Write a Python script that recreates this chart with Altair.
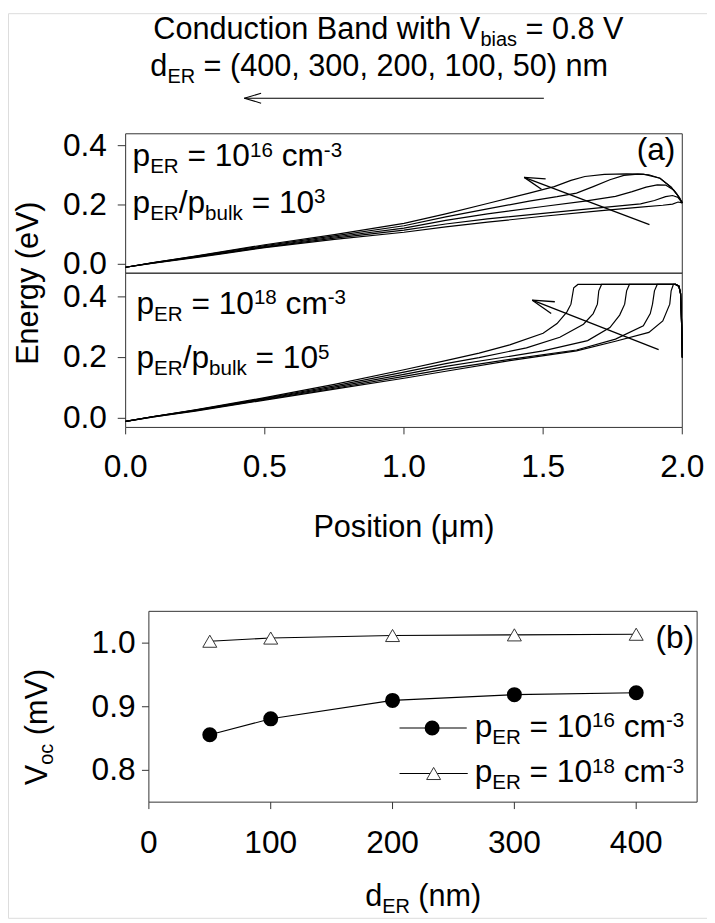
import altair as alt
import pandas as pd

FONT = "Liberation Sans"

# ---------------- data ----------------
d_er_nm = [400, 300, 200, 100, 50]

# panel (a) upper: p_ER = 1e16
x_top = {
    400: [0, 0.1, 0.25, 0.5, 0.75, 1.0, 1.15, 1.3, 1.45, 1.54, 1.6, 1.65, 1.72, 1.8, 1.86, 1.92, 1.96, 1.98, 2.0],
    300: [0, 0.1, 0.25, 0.5, 0.75, 1.0, 1.15, 1.3, 1.45, 1.55, 1.62, 1.68, 1.74, 1.79, 1.84, 1.88, 1.92, 1.96, 1.98, 2.0],
    200: [0, 0.1, 0.25, 0.5, 0.75, 1.0, 1.15, 1.3, 1.5, 1.65, 1.76, 1.82, 1.87, 1.91, 1.94, 1.97, 1.99, 2.0],
    100: [0, 0.1, 0.25, 0.5, 0.75, 1.0, 1.15, 1.3, 1.5, 1.7, 1.85, 1.9, 1.94, 1.965, 1.985, 2.0],
    50: [0, 0.1, 0.25, 0.5, 0.75, 1.0, 1.15, 1.3, 1.5, 1.7, 1.85, 1.93, 1.965, 1.985, 2.0],
}
y_top = {
    400: [-0.01, 0.006, 0.028, 0.066, 0.1, 0.138, 0.17, 0.205, 0.24, 0.262, 0.283, 0.296, 0.303, 0.305, 0.304, 0.29, 0.26, 0.237, 0.207],
    300: [-0.01, 0.006, 0.027, 0.063, 0.096, 0.13, 0.16, 0.187, 0.213, 0.228, 0.24, 0.262, 0.285, 0.3, 0.304, 0.302, 0.29, 0.26, 0.237, 0.207],
    200: [-0.01, 0.005, 0.025, 0.06, 0.092, 0.122, 0.148, 0.17, 0.195, 0.213, 0.229, 0.245, 0.26, 0.268, 0.267, 0.25, 0.225, 0.207],
    100: [-0.01, 0.005, 0.024, 0.058, 0.088, 0.115, 0.136, 0.153, 0.172, 0.19, 0.204, 0.215, 0.228, 0.232, 0.225, 0.207],
    50: [-0.01, 0.004, 0.022, 0.056, 0.084, 0.108, 0.126, 0.142, 0.162, 0.18, 0.193, 0.199, 0.203, 0.21, 0.207],
}

# panel (a) lower: p_ER = 1e18
x_bot = {
    400: [0, 0.1, 0.25, 0.5, 0.75, 1.0, 1.15, 1.27, 1.38, 1.5, 1.55, 1.585, 1.6, 1.61, 1.625, 1.976, 1.988, 1.994, 1.998, 2.0],
    300: [0, 0.1, 0.25, 0.5, 0.75, 1.0, 1.15, 1.27, 1.44, 1.56, 1.645, 1.68, 1.695, 1.7, 1.71, 1.976, 1.988, 1.994, 1.998, 2.0],
    200: [0, 0.1, 0.25, 0.5, 0.75, 1.0, 1.15, 1.33, 1.5, 1.66, 1.74, 1.775, 1.793, 1.8, 1.81, 1.976, 1.988, 1.994, 1.998, 2.0],
    100: [0, 0.1, 0.25, 0.5, 0.75, 1.0, 1.15, 1.38, 1.62, 1.76, 1.86, 1.885, 1.893, 1.9, 1.91, 1.976, 1.988, 1.994, 1.998, 2.0],
    50: [0, 0.1, 0.25, 0.5, 0.75, 1.0, 1.15, 1.38, 1.62, 1.76, 1.88, 1.93, 1.955, 1.96, 1.968, 1.976, 1.988, 1.994, 1.998, 2.0],
}
y_bot = {
    400: [-0.01, 0.006, 0.028, 0.068, 0.112, 0.16, 0.19, 0.215, 0.242, 0.28, 0.312, 0.35, 0.376, 0.43, 0.441, 0.441, 0.435, 0.41, 0.3, 0.2],
    300: [-0.01, 0.006, 0.027, 0.066, 0.107, 0.152, 0.18, 0.2, 0.232, 0.267, 0.31, 0.345, 0.376, 0.42, 0.441, 0.441, 0.435, 0.41, 0.3, 0.2],
    200: [-0.01, 0.006, 0.026, 0.064, 0.103, 0.145, 0.171, 0.197, 0.222, 0.256, 0.299, 0.34, 0.376, 0.42, 0.441, 0.441, 0.435, 0.41, 0.3, 0.2],
    100: [-0.01, 0.005, 0.025, 0.062, 0.099, 0.138, 0.162, 0.194, 0.225, 0.261, 0.305, 0.345, 0.376, 0.42, 0.441, 0.441, 0.435, 0.41, 0.3, 0.2],
    50: [-0.01, 0.005, 0.024, 0.06, 0.096, 0.132, 0.155, 0.19, 0.222, 0.254, 0.283, 0.321, 0.376, 0.42, 0.441, 0.441, 0.435, 0.41, 0.3, 0.2],
}

# annotation arrows in panel (a): shaft tail -> tip, plus two barbs (data units)
arrow_top = [(1.882, 0.134, 1.432, 0.293), (1.432, 0.293, 1.509, 0.288), (1.432, 0.293, 1.494, 0.253)]
arrow_bot = [(1.915, 0.226, 1.461, 0.389), (1.461, 0.389, 1.542, 0.384), (1.461, 0.389, 1.529, 0.345)]

# panel (b)
d_er_b = [50, 100, 200, 300, 400]
voc_16 = [0.856, 0.881, 0.910, 0.919, 0.922]
voc_18 = [1.003, 1.008, 1.012, 1.013, 1.014]

# tick values / labels
ticks_pos = [0, 0.5, 1.0, 1.5, 2.0]
ticks_pos_lbl = ["0.0", "0.5", "1.0", "1.5", "2.0"]
ticks_energy = [0, 0.2, 0.4]
ticks_energy_lbl = ["0.0", "0.2", "0.4"]
ticks_der = [0, 100, 200, 300, 400]
ticks_der_lbl = ["0", "100", "200", "300", "400"]
ticks_voc = [0.8, 0.9, 1.0]
ticks_voc_lbl = ["0.8", "0.9", "1.0"]

# ---------------- helpers ----------------
M = 8  # page margin
AW = {' ': 278, '.': 278, ',': 278, '=': 584, '(': 333, ')': 333, '/': 278, '-': 333,
      'a': 556, 'b': 556, 'c': 500, 'd': 556, 'e': 556, 'g': 556, 'h': 556, 'i': 222, 'k': 500,
      'l': 222, 'm': 833, 'n': 556, 'o': 556, 'p': 556, 'r': 333, 's': 500, 't': 278, 'u': 556,
      'w': 722, 'y': 500, 'B': 667, 'C': 722, 'E': 667, 'R': 722, 'V': 667, 'P': 667, 'μ': 576}
for _c in '0123456789':
    AW[_c] = 556


def tw(s, f):
    return sum(AW.get(c, 556) for c in s) / 1000.0 * f


R = 0.65


def seg_font(k, F):
    return F if k == 'n' else F * R


def seg_shift(k, F):
    return 0 if k == 'n' else (0.22 * F if k == 'b' else -0.30 * F)


def rich(segs, x0, y0, F, anchor='start'):
    total = sum(tw(t, seg_font(k, F)) for t, k in segs)
    if anchor == 'middle':
        x0 -= total / 2
    elif anchor == 'end':
        x0 -= total
    rows, x = [], x0
    for t, k in segs:
        fs = seg_font(k, F)
        lead = len(t) - len(t.lstrip(' '))
        txt = t.strip(' ')
        if txt:
            rows.append(dict(x=x + tw(' ' * lead, fs) - M, y=y0 + seg_shift(k, F) - M, t=txt, fs=fs))
        x += tw(t, fs)
    return rows


def rich_v(segs, xb, yc, F):
    total = sum(tw(t, seg_font(k, F)) for t, k in segs)
    y = yc + total / 2
    rows = []
    for t, k in segs:
        fs = seg_font(k, F)
        lead = len(t) - len(t.lstrip(' '))
        txt = t.strip(' ')
        if txt:
            rows.append(dict(x=xb + seg_shift(k, F) - M, y=y - tw(' ' * lead, fs) - M, t=txt, fs=fs))
        y -= tw(t, fs)
    return rows


def curves_df(xd, yd):
    rows = []
    for d in d_er_nm:
        for i, (a, b) in enumerate(zip(xd[d], yd[d])):
            rows.append(dict(x=a, y=b, d=d, i=i))
    return pd.DataFrame(rows)


W, H = 715 - M, 923 - M
INK = '#333333'
F = 32     # tick labels / annotations
FT = 31    # titles


def frame(xs, ys, x0, x1, y0, y1):
    df = pd.DataFrame({'a': [x0], 'b': [x1], 'c': [y0], 'e': [y1]})
    return alt.Chart(df).mark_rect(filled=False, color=INK, strokeWidth=1).encode(
        x=alt.X('a:Q', scale=xs, axis=None), x2='b:Q',
        y=alt.Y('c:Q', scale=ys, axis=None), y2='e:Q')


def arrow(xs, ys, segs):
    df = pd.DataFrame(segs, columns=['x', 'y', 'x2', 'y2'])
    return alt.Chart(df).mark_rule(color='black', strokeWidth=1.3).encode(
        x=alt.X('x:Q', scale=xs, axis=None), y=alt.Y('y:Q', scale=ys, axis=None),
        x2='x2:Q', y2='y2:Q')


def xticks(xs, vals, lbls, y_axis, tick_len, y_base):
    df = pd.DataFrame({'v': vals, 'l': lbls})
    t = alt.Chart(df).mark_rule(color=INK, strokeWidth=1).encode(
        x=alt.X('v:Q', scale=xs, axis=None),
        y=alt.value(y_axis - M), y2=alt.value(y_axis + tick_len - M))
    l = alt.Chart(df).mark_text(align='center', baseline='alphabetic', font=FONT,
                                fontSize=F, color='black').encode(
        x=alt.X('v:Q', scale=xs, axis=None), y=alt.value(y_base - M), text='l:N')
    return [t, l]


def yticks(ys, vals, lbls, x_axis, tick_len, x_right):
    df = pd.DataFrame({'v': vals, 'l': lbls})
    t = alt.Chart(df).mark_rule(color=INK, strokeWidth=1).encode(
        y=alt.Y('v:Q', scale=ys, axis=None),
        x=alt.value(x_axis - tick_len - M), x2=alt.value(x_axis - M))
    l = alt.Chart(df).mark_text(align='right', baseline='middle', font=FONT,
                                fontSize=F, color='black').encode(
        y=alt.Y('v:Q', scale=ys, axis=None), x=alt.value(x_right - M), text='l:N')
    return [t, l]


def lines(df, xs, ys):
    return alt.Chart(df).mark_line(color='black', strokeWidth=1.2).encode(
        x=alt.X('x:Q', scale=xs, axis=None), y=alt.Y('y:Q', scale=ys, axis=None),
        detail='d:N', order='i:Q')

# ---------------- panel (a) ----------------
XA0, XA1 = 127, 690
xa = alt.Scale(domain=[0, 2], range=[XA0 - M, XA1 - M], nice=False, zero=False)
ya1 = alt.Scale(domain=[-0.03, 0.44], range=[271 - M, 130 - M], nice=False, zero=False)
ya2 = alt.Scale(domain=[-0.03, 0.478], range=[427 - M, 271 - M], nice=False, zero=False)

pa_top = alt.layer(
    frame(xa, ya1, 0, 2, -0.03, 0.44),
    lines(curves_df(x_top, y_top), xa, ya1),
    arrow(xa, ya1, arrow_top),
    *yticks(ya1, ticks_energy, ticks_energy_lbl, XA0, 8, 108),
)

pa_bot = alt.layer(
    frame(xa, ya2, 0, 2, -0.03, 0.478),
    lines(curves_df(x_bot, y_bot), xa, ya2),
    arrow(xa, ya2, arrow_bot),
    *yticks(ya2, ticks_energy, ticks_energy_lbl, XA0, 8, 108),
    *xticks(xa, ticks_pos, ticks_pos_lbl, 427, 7, 477),
)

# ---------------- panel (b) ----------------
XB0, XB1 = 150.5, 705
xb = alt.Scale(domain=[0, 450], range=[XB0 - M, XB1 - M], nice=False, zero=False)
yb = alt.Scale(domain=[0.75, 1.05], range=[806 - M, 613 - M], nice=False, zero=False)

df_b = pd.DataFrame({'d': d_er_b * 2, 'v': voc_16 + voc_18,
                     's': ['16'] * len(d_er_b) + ['18'] * len(d_er_b)})
df16 = df_b[df_b.s == '16']
df18 = df_b[df_b.s == '18']

line_b = alt.Chart(df_b).mark_line(color='black', strokeWidth=1.1).encode(
    x=alt.X('d:Q', scale=xb, axis=None), y=alt.Y('v:Q', scale=yb, axis=None), detail='s:N')
pts16 = alt.Chart(df16).mark_point(shape='circle', filled=True, color='black', size=230, opacity=1).encode(
    x=alt.X('d:Q', scale=xb, axis=None), y=alt.Y('v:Q', scale=yb, axis=None))
pts18 = alt.Chart(df18).mark_point(shape='triangle-up', filled=True, fill='white', stroke=INK,
                                   strokeWidth=1, size=200, opacity=1).encode(
    x=alt.X('d:Q', scale=xb, axis=None), y=alt.Y('v:Q', scale=yb, axis=None))

pb = alt.layer(
    frame(xb, yb, 0, 450, 0.75, 1.05), line_b, pts16, pts18,
    *yticks(yb, ticks_voc, ticks_voc_lbl, XB0, 7, 137),
    *xticks(xb, ticks_der, ticks_der_lbl, 806, 7, 857),
)

# ---------------- annotations (page pixels) ----------------
rows = []
rows += rich([("Conduction Band with V", 'n'), ("bias", 'b'), (" = 0.8 V", 'n')], 155, 34, FT)
rows += rich([("d", 'n'), ("ER", 'b'), (" = (400, 300, 200, 100, 50) nm", 'n')], 152, 72, FT)
rows += rich([("p", 'n'), ("ER", 'b'), (" = 10", 'n'), ("16", 'p'), (" cm", 'n'), ("-3", 'p')], 134, 163, F)
rows += rich([("p", 'n'), ("ER", 'b'), ("/p", 'n'), ("bulk", 'b'), (" = 10", 'n'), ("3", 'p')], 134, 210, F)
rows += rich([("(a)", 'n')], 683, 157, F, anchor='end')
rows += rich([("p", 'n'), ("ER", 'b'), (" = 10", 'n'), ("18", 'p'), (" cm", 'n'), ("-3", 'p')], 138, 312, F)
rows += rich([("p", 'n'), ("ER", 'b'), ("/p", 'n'), ("bulk", 'b'), (" = 10", 'n'), ("5", 'p')], 138, 367, F)
rows += rich([("Position (μm)", 'n')], 408.5, 538, FT, anchor='middle')
rows += rich([("(b)", 'n')], 702, 650, F, anchor='end')
rows += rich([("p", 'n'), ("ER", 'b'), (" = 10", 'n'), ("16", 'p'), (" cm", 'n'), ("-3", 'p')], 480, 740, F)
rows += rich([("p", 'n'), ("ER", 'b'), (" = 10", 'n'), ("18", 'p'), (" cm", 'n'), ("-3", 'p')], 480, 786, F)
rows += rich([("d", 'n'), ("ER", 'b'), (" (nm)", 'n')], 428, 911, FT, anchor='middle')

vrows = []
vrows += rich_v([("Energy (eV)", 'n')], 38, 281, FT)
vrows += rich_v([("V", 'n'), ("oc", 'b'), (" (mV)", 'n')], 47, 730, FT)

enc_px = dict(x=alt.X('x:Q', scale=None, axis=None), y=alt.Y('y:Q', scale=None, axis=None),
              text='t:N', size=alt.Size('fs:Q', scale=None, legend=None))
texts_h = alt.Chart(pd.DataFrame(rows)).mark_text(
    align='left', baseline='alphabetic', font=FONT, color='black').encode(**enc_px)
texts_v = alt.Chart(pd.DataFrame(vrows)).mark_text(
    align='left', baseline='alphabetic', font=FONT, color='black', angle=270).encode(**enc_px)

# title arrow and legend samples (page pixels)
px_rules = pd.DataFrame([
    (247, 94, 550, 94), (247, 94, 264, 89), (247, 94, 264, 99),
    (404, 731, 472, 731), (404, 777, 473, 777),
], columns=['x', 'y', 'x2', 'y2'])
px_rules[['x', 'x2', 'y', 'y2']] -= M
rules = alt.Chart(px_rules).mark_rule(color='black', strokeWidth=1.1).encode(
    x=alt.X('x:Q', scale=None, axis=None), y=alt.Y('y:Q', scale=None, axis=None),
    x2='x2:Q', y2='y2:Q')

leg16 = alt.Chart(pd.DataFrame({'x': [437 - M], 'y': [731 - M]})).mark_point(
    shape='circle', filled=True, color='black', size=230, opacity=1).encode(
    x=alt.X('x:Q', scale=None, axis=None), y=alt.Y('y:Q', scale=None, axis=None))
leg18 = alt.Chart(pd.DataFrame({'x': [438.5 - M], 'y': [777 - M]})).mark_point(
    shape='triangle-up', filled=True, fill='white', stroke=INK, strokeWidth=1, size=200, opacity=1).encode(
    x=alt.X('x:Q', scale=None, axis=None), y=alt.Y('y:Q', scale=None, axis=None))

chart = alt.layer(pa_top, pa_bot, pb, rules, leg16, leg18, texts_h, texts_v).resolve_scale(
    x='independent', y='independent'
).properties(
    width=W, height=H, padding=0, autosize=alt.AutoSizeParams(type='none')
).configure_view(stroke=None).configure(background='white')

chart.save("out.html", embed_options={"renderer": "svg", "actions": False})
